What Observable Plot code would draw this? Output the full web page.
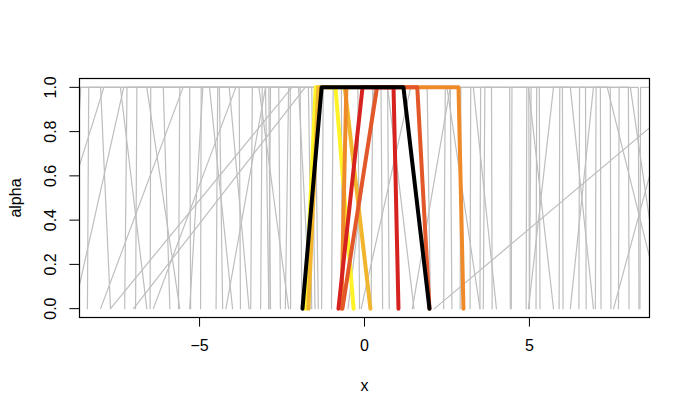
<!DOCTYPE html>
<html><head><meta charset="utf-8">
<script src="https://cdn.jsdelivr.net/npm/d3@7"></script>
<script src="https://cdn.jsdelivr.net/npm/@observablehq/plot@0.6"></script>
<style>
body{margin:0;background:#fff}
#chart svg, #chart svg g, #chart svg text{font-family:'Liberation Sans', Arial, sans-serif;font-size:16px !important}
</style>
</head><body><div id="chart"></div>
<script>
// Gray background fuzzy numbers: corners (a,0) (b,1) (c,1) (d,0)
const grayA = [-8.4,-9.5,-8.8,-8.0,-7.7,-7.27,-6.94,-6.5,-10,-5.64,-5.3,-4.97,-6.4,-4.5,-3.45,-3.15,-7.0,-4.2,-1.3,-1.0,-0.5,0.2,-0.1,-9,-2.9,-2.4,
  2.12,1.45,2.4,3.6,4.97,6.24,5.0,7.55,2.9,3.2,4.45,4.9,5.9,6.5,7.0,7.7,8.35,3.5,5.2];
const grayB = [-8.36,-9.0,-7.3,-5.5,-2.2,-7.2,-6.9,-6.48,-7.9,-5.6,-4.9,-4.95,-3.9,-4.45,-3.4,-3.1,-1.8,-3.0,-1.25,-0.95,0.3,0.25,1.4,-8.6,-2.85,-2.3,
  10.1,2.6,2.45,3.65,5.73,6.94,5.05,9.37,2.92,3.22,4.47,4.92,5.92,6.52,7.02,7.72,8.37,3.52,5.22];
const grayC = [-6.1,-8.0,-4.4,-3.0,-1.5,-5.3,-4.7,-3.8,-6.6,-2.6,-4.1,-2.9,-3.2,-1.95,-2.25,-1.7,-1.6,-2.0,-0.2,0.5,0.7,1.9,2.6,-7.4,0.7,-0.7,
  11,3.3,2.5,4.97,6.24,8.06,7.36,10,3.85,4.4,5.3,4.98,7.15,7.45,8.0,8.3,9.0,6.0,6.7];
const grayD = [-5.9,-7.7,-4.3,-2.9,-1.4,-5.27,-4.0,-3.76,-5.6,-2.55,-3.5,-2.85,-2.3,-1.9,-2.24,-1.6,-1.5,-1.65,-0.15,0.55,1.5,2.0,2.65,-6.6,0.75,-0.68,
  12,4.0,3.5,5.73,6.94,9.03,9.03,11,3.87,4.42,5.32,5.0,7.17,7.47,8.02,8.32,9.1,6.02,6.72];

// Highlighted fuzzy numbers
const hiNames  = ["s1","s2","s3","s4","s5","s6"];
const hiColors = ["#FFF227","#F1B62E","#EE8A2A","#E2582A","#D72320","#000000"];
const hiA = [-1.79,-1.70,-0.70,-0.67,-0.79,-1.88];
const hiB = [-1.48,-1.40,-0.55, 0.38,-0.06,-1.30];
const hiC = [-0.88,-0.60, 2.85, 1.60, 0.88, 1.18];
const hiD = [-0.33, 0.18, 3.00, 1.97, 1.03, 1.97];

const xTicks = [-5, 0, 5];
const yTicks = [0, 0.2, 0.4, 0.6, 0.8, 1.0];

function corners(A, B, C, D, names) {
  const rows = [];
  A.forEach((a, i) => {
    const id = names ? names[i] : "g" + i;
    rows.push({id, x: a, y: 0}, {id, x: B[i], y: 1}, {id, x: C[i], y: 1}, {id, x: D[i], y: 0});
  });
  return rows;
}
const grayRows = corners(grayA, grayB, grayC, grayD);
const hiRows = corners(hiA, hiB, hiC, hiD, hiNames);

const chart = Plot.plot({
  width: 690, height: 415,
  marginLeft: 79, marginRight: 41, marginTop: 78, marginBottom: 98,
  style: {fontFamily: "'Liberation Sans', Arial, sans-serif", fontSize: "16px", color: "#000", background: "#fff"},
  x: {domain: [-8.64, 8.64]},
  y: {domain: [-0.04, 1.04]},
  color: {type: "ordinal", domain: hiNames, range: hiColors},
  marks: [
    Plot.line(grayRows, {x: "x", y: "y", z: "id", stroke: "#BEBEBE", strokeWidth: 1.2, clip: true}),
    Plot.line(hiRows, {x: "x", y: "y", z: "id", stroke: "id", strokeWidth: 4, clip: true, strokeLinejoin: "round"}),
    Plot.frame({stroke: "#000", strokeWidth: 1.2}),
    Plot.axisX({ticks: xTicks, tickSize: 9.6, tickPadding: 13, fontSize: 16, tickFormat: d => d < 0 ? "\u2212" + Math.abs(d) : String(d),
      label: "x", labelAnchor: "center", labelArrow: "none", labelOffset: 73}),
    Plot.axisY({ticks: yTicks, tickSize: 9.6, tickPadding: 13.5, fontSize: 16, tickRotate: -90, tickFormat: d3.format(".1f"),
      label: "alpha", labelAnchor: "center", labelArrow: "none", labelOffset: 70})
  ]
});
document.getElementById("chart").appendChild(chart);
</script>
</body></html>
